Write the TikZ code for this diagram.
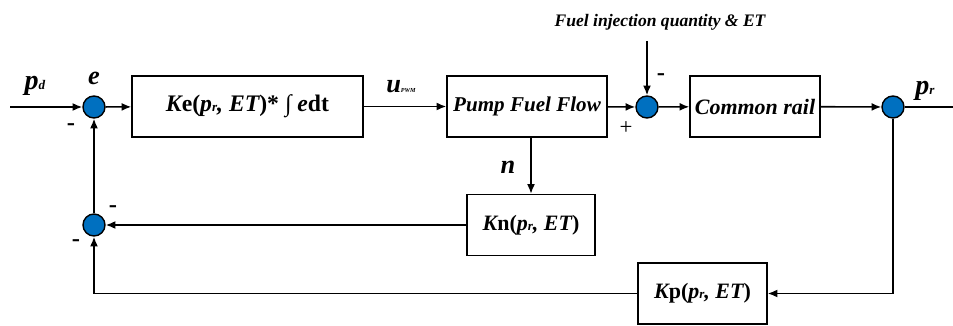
\documentclass[tikz,border=0pt]{standalone}
\usepackage{fontspec}
\setmainfont{Liberation Serif}
\usepackage{xcolor}
\usetikzlibrary{arrows.meta}
\definecolor{sumblue}{RGB}{0,112,192}
\newcommand{\lsub}[1]{{\fontsize{7.5}{8}\selectfont #1}}
\tikzset{
  blk/.style={draw, line width=0.8pt, minimum height=1.22cm, inner sep=0pt, font=\fontsize{12.5}{14}\selectfont\bfseries\itshape},
  sumdot/.style={circle, draw, line width=0.8pt, fill=sumblue, minimum size=0.44cm, inner sep=0pt},
  sig/.style={line width=0.9pt, -{Latex[length=5.5pt,width=4.5pt]}},
  wire/.style={line width=0.9pt},
  sgn/.style={font=\fontsize{14}{14}\selectfont\bfseries},
  lbl/.style={font=\fontsize{15}{15}\selectfont\bfseries\itshape},
}

\begin{document}
\begin{tikzpicture}[x=0.02cm,y=0.02cm]
\useasboundingbox (0,0) rectangle (953,325);
% forward path
\coordinate (pin) at (10,218);
\node[sumdot] (s1) at (94,218) {};
\node[blk, minimum width=4.62cm, font=\fontsize{13.5}{15}\selectfont\bfseries\itshape] (ke) at (247.5,218.5) {K\upshape e(\itshape p\lsub{r}, ET\upshape)* ∫ \itshape e\upshape dt};
\node[blk, minimum width=3.2cm, font=\fontsize{12}{14}\selectfont\bfseries\itshape] (pump) at (527,218.5) {Pump Fuel Flow};
\node[sumdot] (s2) at (647,218) {};
\node[blk, minimum width=2.6cm] (rail) at (755,218.5) {Common rail};
\node[sumdot] (s3) at (893,218) {};
\coordinate (pout) at (953,218);
\coordinate (finj) at (647,284);
% feedback path
\node[blk, minimum width=2.56cm] (kn) at (531,100) {K\upshape n(\itshape p\lsub{r}, ET\upshape)};
\node[blk, minimum width=2.58cm] (kp) at (702.5,31.5) {K\upshape p(\itshape p\lsub{r}, ET\upshape)};
\node[sumdot] (s4) at (94,100) {};
% labels
\node[lbl, font=\fontsize{16}{16}\selectfont\bfseries\itshape] (pd) at (35,239) {p\lsub{d}};
\node[lbl] (e) at (94,247) {e};
\node[lbl] (upwm) at (401,238) {u{\fontsize{3.5}{4}\selectfont PWM}};
\node[lbl] (n) at (508,158) {n};
\node[lbl, font=\fontsize{16}{16}\selectfont\bfseries\itshape] (pr) at (925,234) {p\lsub{r}};
\node[font=\fontsize{10}{12}\selectfont\bfseries\itshape] (fuel) at (660,303) {Fuel injection quantity \& ET};
\node[sgn] (m1) at (71,198) {-};
\node[sgn] (m2) at (661,248) {-};
\node[font=\fontsize{13}{13}\selectfont] (p2) at (626,197) {+};
\node[sgn] (m3) at (113,116) {-};
\node[sgn] (m4) at (76,82) {-};
% connectors
\draw[sig] (pin) -- (s1);
\draw[sig] (s1) -- (ke);
\draw[sig] (ke) -- (pump);
\draw[sig] (pump) -- (s2);
\draw[sig] (s2) -- (rail);
\draw[sig] (rail) -- (s3);
\draw[wire] (s3) -- (pout);
\draw[sig] (finj) -- (s2);
\draw[sig] (kn.north |- pump.south) -- (kn.north);
\draw[sig] (kn) -- (s4);
\draw[sig] (s3.south) |- (kp.east);
\draw[sig] (kp.west) -| (s4.south);
\draw[sig] (s4) -- (s1);
\end{tikzpicture}
\end{document}
